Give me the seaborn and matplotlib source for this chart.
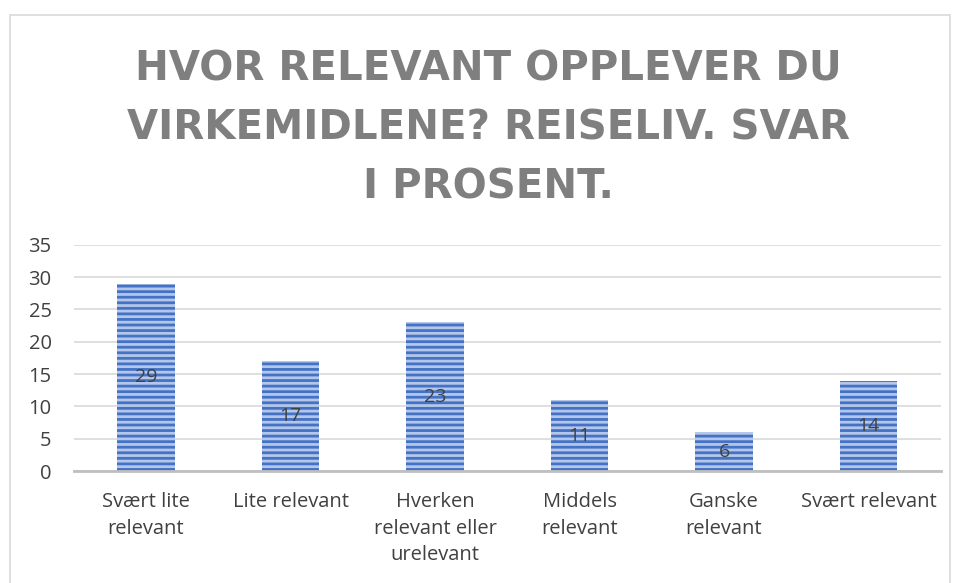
import matplotlib
matplotlib.use("Agg")
import matplotlib.pyplot as plt
import seaborn as sns
import pandas as pd
from matplotlib.patches import Rectangle

categories = ["Svært lite\nrelevant", "Lite relevant", "Hverken\nrelevant eller\nurelevant",
              "Middels\nrelevant", "Ganske\nrelevant", "Svært relevant"]
values = [29, 17, 23, 11, 6, 14]
title = "HVOR RELEVANT OPPLEVER DU\nVIRKEMIDLENE? REISELIV. SVAR\nI PROSENT."

df = pd.DataFrame({"kategori": categories, "prosent": values})

sns.set_style("white")
plt.rcParams["font.family"] = ["Open Sans", "DejaVu Sans"]
plt.rcParams["hatch.linewidth"] = 2.0
plt.rcParams["hatch.color"] = "#4472C4"

fig = plt.figure(figsize=(9.58, 5.83), dpi=100)
ax = fig.add_axes([0.077, 0.192, 0.905, 0.388])

sns.barplot(data=df, x="kategori", y="prosent", color="#B4C7EA", width=0.4,
            saturation=1, ax=ax)
for p in ax.patches:
    p.set_hatch("---")
    p.set_edgecolor("#4472C4")
    p.set_linewidth(0)

for i, v in enumerate(values):
    ax.text(i, v / 2, str(v), ha="center", va="center", fontsize=14, color="#404040")

ax.set_ylim(0, 35)
ax.set_yticks(range(0, 36, 5))
ax.yaxis.grid(True, color="#D9D9D9", linewidth=1.2)
ax.set_axisbelow(True)
for s in ["top", "right", "left"]:
    ax.spines[s].set_visible(False)
ax.spines["bottom"].set_color("#BFBFBF")
ax.spines["bottom"].set_linewidth(2)
ax.tick_params(axis="both", length=0, labelsize=14.5, labelcolor="#404040")
ax.tick_params(axis="x", pad=15)
ax.tick_params(axis="y", pad=16)
ax.set_xlabel("")
ax.set_ylabel("")
for lbl in ax.get_xticklabels():
    lbl.set_linespacing(1.45)

fig.text(0.510, 0.780, title, ha="center", va="center", fontsize=29, fontweight="bold",
         color="#7F7F7F", linespacing=1.62, family=["DejaVu Sans"])

fig.patches.append(Rectangle((10 / 958, -0.05), 940 / 958, 1.05 - 15 / 583,
                             transform=fig.transFigure, fill=False,
                             edgecolor="#D9D9D9", linewidth=1.2))

fig.savefig("out.png", dpi=100)
